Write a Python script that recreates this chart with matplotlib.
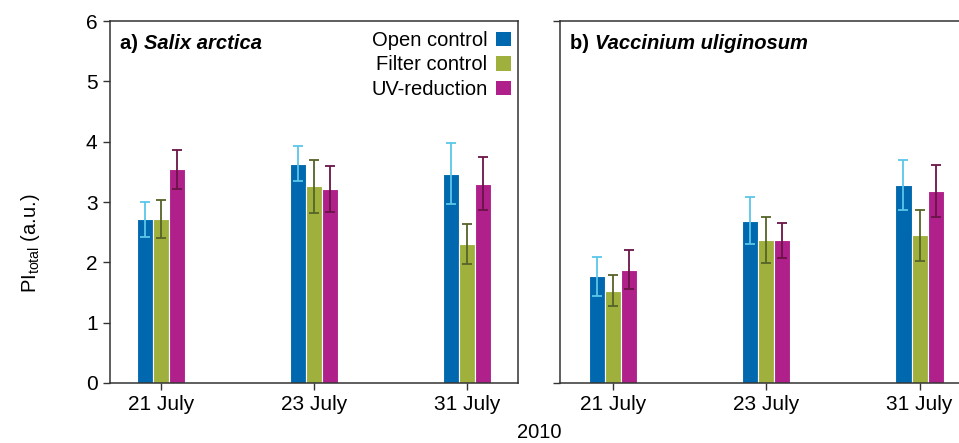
import numpy as np
import matplotlib
matplotlib.use("Agg")
import matplotlib.pyplot as plt
from matplotlib.patches import Patch

plt.rcParams['font.family'] = ['Liberation Sans', 'DejaVu Sans']
plt.rcParams['font.size'] = 15

# data
dates = ["21 July", "23 July", "31 July"]
treatments = ["Open control", "Filter control", "UV-reduction"]

salix_mean = {
    "Open control":   [2.71, 3.63, 3.47],
    "Filter control": [2.72, 3.26, 2.31],
    "UV-reduction":   [3.54, 3.21, 3.30],
}
salix_err = {
    "Open control":   [0.29, 0.29, 0.51],
    "Filter control": [0.32, 0.44, 0.33],
    "UV-reduction":   [0.33, 0.38, 0.44],
}
vacc_mean = {
    "Open control":   [1.77, 2.69, 3.28],
    "Filter control": [1.53, 2.37, 2.45],
    "UV-reduction":   [1.88, 2.37, 3.18],
}
vacc_err = {
    "Open control":   [0.32, 0.39, 0.42],
    "Filter control": [0.26, 0.38, 0.42],
    "UV-reduction":   [0.33, 0.29, 0.43],
}

bar_colors = {"Open control": "#0068ae", "Filter control": "#a0b03c", "UV-reduction": "#b0208a"}
err_colors = {"Open control": "#5cc6e8", "Filter control": "#55632a", "UV-reduction": "#6a1446"}

fig = plt.figure(figsize=(9.59, 4.43), dpi=100)
W, H = 959, 443
ax1 = fig.add_axes([110 / W, 60 / H, 408 / W, 362 / H])
ax2 = fig.add_axes([560 / W, 60 / H, 404 / W, 362 / H])

x = np.arange(len(dates))
width = 0.105


def draw_panel(ax, means, errs):
    for i, t in enumerate(treatments):
        pos = x + (i - 1) * width
        ax.bar(pos, means[t], width, color=bar_colors[t], edgecolor="white", linewidth=0.8, zorder=2)
        ax.errorbar(pos, means[t], yerr=errs[t], fmt="none", ecolor=err_colors[t],
                    elinewidth=1.3, capsize=3.5, capthick=1.3, zorder=3)
    ax.set_ylim(0, 6)
    ax.set_xticks(x)
    ax.set_xticklabels(dates)
    for s in ax.spines.values():
        s.set_color("#333333")
        s.set_linewidth(1.1)
    ax.tick_params(direction="out", length=5, width=1.0, color="#333333", labelsize=15, pad=4)


draw_panel(ax1, salix_mean, salix_err)
draw_panel(ax2, vacc_mean, vacc_err)

ax1.set_xlim(-1 / 3, 2 + 1 / 3)
ax2.set_xlim(-0.346, 2.29)
ax1.set_yticks(range(7))
ax2.set_yticks([0, 6])
ax2.set_yticklabels([])

# panel titles
t1 = ax1.text(0.025, 0.965, "a) ", transform=ax1.transAxes, fontsize=14.5, fontweight="bold", va="top")
ax1.annotate("Salix arctica", xy=(1, 0), xycoords=t1, va="bottom", fontsize=14.5,
             fontweight="bold", fontstyle="italic")
t2 = ax2.text(0.025, 0.965, "b) ", transform=ax2.transAxes, fontsize=14.5, fontweight="bold", va="top")
ax2.annotate("Vaccinium uliginosum", xy=(1, 0), xycoords=t2, va="bottom", fontsize=14.5,
             fontweight="bold", fontstyle="italic")

handles = [Patch(facecolor=bar_colors[t], edgecolor="none") for t in treatments]
ax1.legend(handles, treatments, loc="upper right", bbox_to_anchor=(1.0, 0.992), frameon=False,
           markerfirst=False, handlelength=0.72, handleheight=0.72, handletextpad=0.45,
           labelspacing=0.27, borderaxespad=0.15, borderpad=0.2, fontsize=14.5)

fig.text(30 / W, 1 - 243 / H, r"PI$_\mathregular{total}$ (a.u.)", rotation=90,
         ha="center", va="center", fontsize=14.5)
fig.text(539 / W, 1 - 433 / H, "2010", ha="center", va="center", fontsize=14.5)

fig.savefig("out.png", dpi=100)
